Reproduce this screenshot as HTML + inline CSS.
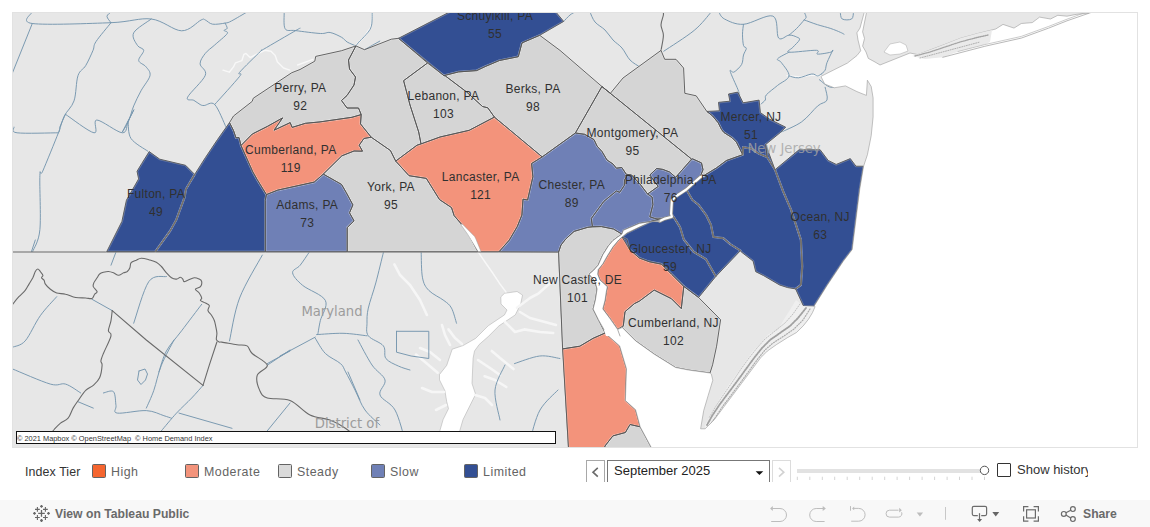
<!DOCTYPE html>
<html><head><meta charset="utf-8"><title>Home Demand Index</title>
<style>
html,body{margin:0;padding:0;background:#fff;}
body{width:1150px;height:527px;overflow:hidden;position:relative;font-family:"Liberation Sans",Arial,sans-serif;}
.abs{position:absolute;}
.leg{position:absolute;top:464.3px;font-size:12.4px;letter-spacing:0.5px;color:#646464;line-height:16px;}
.sw{position:absolute;top:464px;width:12px;height:12px;border:1px solid #636363;border-radius:1.5px;}
.bar{position:absolute;left:0;top:500px;width:1150px;height:27px;background:#f8f8f8;}
</style></head><body>
<svg width="1150" height="527" viewBox="0 0 1150 527" style="position:absolute;left:0;top:0"><defs><clipPath id="mc"><rect x="13" y="13" width="1124" height="434"/></clipPath></defs><g clip-path="url(#mc)"><rect x="13" y="13" width="1124" height="434" fill="#e7e7e7"/><polygon points="500.8,296.9 504.5,293.3 517.1,291.5 522.5,295.1 520.7,304.1 515.3,314.9 499.0,325.8 488.2,336.6 479.2,344.5 474.5,351.0 473.1,358.2 472.0,383.5 475.6,394.3 470.2,405.1 463.0,419.6 459.4,432.0 439.5,432.0 443.1,419.6 448.5,408.7 446.7,401.5 444.9,390.7 439.5,379.9 439.5,374.5 446.7,365.4 452.2,349.2 463.0,345.6 475.6,338.4 488.2,325.8 504.5,314.9 507.0,310.0 501.0,304.0" fill="#ffffff" stroke="#a8a8a8" stroke-width="0.5"/><polygon points="884.0,52.0 890.0,44.0 900.0,42.0 906.0,45.0 908.0,51.0 900.0,54.0 890.0,55.0" fill="#ffffff" stroke="#a8a8a8" stroke-width="0.5"/><polyline points="478.0,251.7 485.0,262.0 492.0,272.0 500.0,284.0 506.0,292.0" fill="none" stroke="#f8f8f8" stroke-width="1.4" stroke-linejoin="round" stroke-linecap="round" /><polyline points="462.0,225.0 470.0,237.0 478.0,251.7" fill="none" stroke="#f8f8f8" stroke-width="1.4" stroke-linejoin="round" stroke-linecap="round" /><polyline points="223.0,70.1 229.3,72.2 233.5,66.9 235.5,62.8 241.8,60.7 243.9,54.4 246.0,53.4 250.1,57.6 258.5,53.4 264.8,50.3 271.0,51.3 275.2,55.5 277.3,61.7 283.5,68.0 289.8,70.1" fill="none" stroke="#f8f8f8" stroke-width="1.4" stroke-linejoin="round" stroke-linecap="round" /><polyline points="297.6,65.0 312.9,59.3" fill="none" stroke="#f8f8f8" stroke-width="1.4" stroke-linejoin="round" stroke-linecap="round" /><polyline points="372.2,12.0 371.0,27.0 364.0,37.0 357.0,44.0" fill="none" stroke="#f8f8f8" stroke-width="1.4" stroke-linejoin="round" stroke-linecap="round" /><polyline points="787.0,75.6 800.0,77.0 812.0,75.0 822.0,76.0" fill="none" stroke="#f8f8f8" stroke-width="1.4" stroke-linejoin="round" stroke-linecap="round" /><polyline points="517.0,307.7 530.0,298.0 538.7,293.3 548.0,285.0 556.8,278.9" fill="none" stroke="#f6f6f6" stroke-width="2.6" stroke-linejoin="round" stroke-linecap="round" /><polyline points="520.0,312.0 530.0,318.0 545.0,322.0 556.0,325.0" fill="none" stroke="#f6f6f6" stroke-width="2.6" stroke-linejoin="round" stroke-linecap="round" /><polyline points="505.0,322.0 515.0,332.0 524.3,329.4 540.0,332.0 553.2,333.0" fill="none" stroke="#f6f6f6" stroke-width="2.6" stroke-linejoin="round" stroke-linecap="round" /><polyline points="484.6,376.3 495.0,380.0 506.3,387.0" fill="none" stroke="#f6f6f6" stroke-width="2.6" stroke-linejoin="round" stroke-linecap="round" /><polyline points="491.8,351.0 500.0,358.0 513.5,369.0" fill="none" stroke="#f6f6f6" stroke-width="2.6" stroke-linejoin="round" stroke-linecap="round" /><polyline points="478.0,360.0 490.0,368.0 500.0,375.0" fill="none" stroke="#f6f6f6" stroke-width="2.6" stroke-linejoin="round" stroke-linecap="round" /><polyline points="475.0,395.0 485.0,398.0 492.0,405.0" fill="none" stroke="#f6f6f6" stroke-width="2.6" stroke-linejoin="round" stroke-linecap="round" /><polyline points="416.0,354.6 425.0,362.0 437.7,372.7" fill="none" stroke="#f6f6f6" stroke-width="2.6" stroke-linejoin="round" stroke-linecap="round" /><polyline points="448.5,329.4 455.0,338.0 462.0,344.0" fill="none" stroke="#f6f6f6" stroke-width="2.6" stroke-linejoin="round" stroke-linecap="round" /><polyline points="426.9,315.0 420.0,300.0 410.0,285.0 400.0,275.0 394.4,264.4" fill="none" stroke="#f6f6f6" stroke-width="2.6" stroke-linejoin="round" stroke-linecap="round" /><polyline points="440.0,360.0 430.0,352.0 420.0,348.0" fill="none" stroke="#f6f6f6" stroke-width="2.6" stroke-linejoin="round" stroke-linecap="round" /><polyline points="444.0,392.0 432.0,392.0 422.0,388.0" fill="none" stroke="#f6f6f6" stroke-width="2.6" stroke-linejoin="round" stroke-linecap="round" /><polyline points="446.0,405.0 436.0,410.0" fill="none" stroke="#f6f6f6" stroke-width="2.6" stroke-linejoin="round" stroke-linecap="round" /><polyline points="450.0,345.0 445.0,335.0 442.0,325.0" fill="none" stroke="#f6f6f6" stroke-width="2.6" stroke-linejoin="round" stroke-linecap="round" /><path d="M32.3,12.0 C32.3,13.9 19.2,21.7 32.3,23.5 C45.4,25.3 91.2,23.4 111.0,22.7 C130.8,21.9 139.5,17.6 151.3,19.0 C163.1,20.4 173.3,30.6 181.6,30.8 C189.9,31.0 197.1,21.8 201.1,20.0 C205.1,18.2 203.4,19.3 205.3,20.0 C207.2,20.7 209.3,23.7 212.6,24.2 C215.9,24.7 222.0,23.6 225.1,23.1 C228.2,22.6 227.8,22.9 231.4,21.0 C235.1,19.1 244.4,13.5 247.0,12.0" fill="none" stroke="#7596ae" stroke-width="0.95" stroke-linejoin="round" stroke-linecap="round" /><polyline points="32.3,23.5 12.0,74.0" fill="none" stroke="#7596ae" stroke-width="0.95" stroke-linejoin="round" stroke-linecap="round" /><path d="M111.0,22.7 C110.3,21.6 107.0,18.2 107.0,16.4 C107.0,14.6 110.3,12.7 111.0,12.0" fill="none" stroke="#7596ae" stroke-width="0.95" stroke-linejoin="round" stroke-linecap="round" /><path d="M111.0,22.7 C108.5,25.9 99.0,37.0 96.0,41.6 C93.0,46.2 94.7,46.4 93.0,50.4 C91.3,54.4 88.2,61.4 85.7,65.6 C83.2,69.8 80.0,69.7 78.0,75.6 C76.0,81.5 76.3,94.2 74.0,100.9 C71.7,107.6 66.8,110.8 64.3,116.0 C61.8,121.2 59.9,129.3 59.0,132.0" fill="none" stroke="#7596ae" stroke-width="0.95" stroke-linejoin="round" stroke-linecap="round" /><path d="M151.3,19.0 C148.4,21.3 136.0,28.4 133.7,32.8 C131.4,37.2 135.7,42.5 137.4,45.4 C139.1,48.3 143.5,47.9 143.7,50.4 C143.9,52.9 138.3,57.8 138.7,60.5 C139.1,63.2 144.1,64.3 146.0,66.8 C147.9,69.3 150.8,71.6 150.0,75.6 C149.2,79.6 143.7,85.8 141.0,90.8 C138.3,95.8 135.8,100.9 133.7,105.9 C131.6,110.9 130.5,116.7 128.6,121.0 C126.7,125.3 121.4,133.8 122.3,132.0 C123.2,130.2 131.9,113.7 133.8,110.0" fill="none" stroke="#7596ae" stroke-width="0.95" stroke-linejoin="round" stroke-linecap="round" /><path d="M225.1,23.1 C225.4,24.0 227.4,27.1 227.2,28.3 C227.0,29.5 224.1,29.5 224.1,30.4 C224.1,31.3 228.8,31.2 227.2,33.6 C225.6,36.0 218.3,41.7 214.7,45.0 C211.0,48.3 207.7,50.3 205.3,53.4 C202.9,56.5 200.1,60.1 200.1,63.8 C200.1,67.5 207.4,69.7 205.3,75.3 C203.2,80.9 189.5,93.0 187.6,97.2 C185.7,101.4 191.7,99.1 193.8,100.3 C195.9,101.5 198.4,103.6 200.1,104.5 C201.8,105.4 201.8,105.5 204.2,105.5 C206.6,105.5 211.1,100.9 214.7,104.5 C218.3,108.1 224.1,123.2 226.0,127.0" fill="none" stroke="#7596ae" stroke-width="0.95" stroke-linejoin="round" stroke-linecap="round" /><path d="M214.7,104.5 C218.9,99.8 235.5,81.7 239.7,76.3 C243.9,70.9 236.2,76.4 239.7,72.2 C243.2,68.0 256.6,55.1 260.6,51.3 C264.6,47.5 257.8,52.7 263.7,49.2 C269.6,45.7 289.9,33.9 296.0,30.4 C302.1,26.9 299.3,28.6 300.0,28.3" fill="none" stroke="#7596ae" stroke-width="0.95" stroke-linejoin="round" stroke-linecap="round" /><path d="M284.2,12.0 C284.4,14.8 283.2,25.6 285.1,28.7 C287.0,31.8 289.8,29.8 295.7,30.6 C301.6,31.4 314.8,33.2 320.5,33.5 C326.2,33.8 326.6,31.9 330.1,32.5 C333.6,33.1 338.7,35.7 341.6,37.3 C344.5,38.9 344.9,40.7 347.3,42.1 C349.7,43.5 354.5,45.3 355.9,45.9" fill="none" stroke="#7596ae" stroke-width="0.95" stroke-linejoin="round" stroke-linecap="round" /><path d="M65.5,114.3 C64.5,116.4 61.0,124.0 59.8,127.1 C58.6,130.2 61.2,125.5 58.4,132.8 C55.5,140.2 45.8,164.1 42.7,171.2 C39.6,178.3 40.4,165.8 39.9,175.5 C39.4,185.2 41.1,216.9 39.9,229.6 C38.7,242.3 33.9,247.8 32.7,251.5" fill="none" stroke="#7596ae" stroke-width="0.95" stroke-linejoin="round" stroke-linecap="round" /><path d="M14.2,127.1 C14.7,128.1 9.7,131.9 17.1,132.8 C24.5,133.8 51.5,132.8 58.4,132.8" fill="none" stroke="#7596ae" stroke-width="0.95" stroke-linejoin="round" stroke-linecap="round" /><path d="M65.5,114.3 C70.2,117.4 88.8,131.9 94.0,132.8 C99.2,133.8 92.1,120.0 96.8,120.0 C101.5,120.0 117.2,132.6 122.4,132.8 C127.6,133.0 126.2,125.2 128.1,121.4 C130.0,117.6 132.9,111.9 133.8,110.0" fill="none" stroke="#7596ae" stroke-width="0.95" stroke-linejoin="round" stroke-linecap="round" /><path d="M128.1,121.4 C128.6,124.2 127.7,133.5 131.0,138.5 C134.3,143.5 145.2,149.2 148.0,151.3" fill="none" stroke="#7596ae" stroke-width="0.95" stroke-linejoin="round" stroke-linecap="round" /><path d="M372.2,12.0 C372.0,14.5 372.5,22.8 371.2,26.8 C369.9,30.9 366.6,33.8 364.5,36.3 C362.4,38.8 360.2,40.5 358.8,42.1 C357.4,43.7 356.4,45.3 355.9,45.9" fill="none" stroke="#7596ae" stroke-width="0.95" stroke-linejoin="round" stroke-linecap="round" /><polyline points="364.5,49.7 379.8,41.1" fill="none" stroke="#7596ae" stroke-width="0.95" stroke-linejoin="round" stroke-linecap="round" /><path d="M563.7,21.4 C564.8,20.3 568.1,16.6 570.0,15.0 C571.9,13.4 574.2,12.5 575.0,12.0" fill="none" stroke="#7596ae" stroke-width="0.95" stroke-linejoin="round" stroke-linecap="round" /><path d="M590.0,12.0 C590.8,13.7 592.5,19.0 595.0,22.0 C597.5,25.0 602.0,27.0 605.0,30.0 C608.0,33.0 610.2,37.0 613.0,40.0 C615.8,43.0 619.2,44.7 622.0,48.0 C624.8,51.3 627.0,56.8 630.0,60.0 C633.0,63.2 638.3,65.8 640.0,67.0" fill="none" stroke="#7596ae" stroke-width="0.95" stroke-linejoin="round" stroke-linecap="round" /><path d="M663.8,51.2 C668.9,47.7 686.3,36.9 694.2,30.4 C702.1,23.9 708.4,15.1 711.2,12.0" fill="none" stroke="#7596ae" stroke-width="0.95" stroke-linejoin="round" stroke-linecap="round" /><path d="M718.8,12.0 C719.8,13.2 720.4,16.9 724.5,19.0 C728.6,21.1 735.4,24.8 743.5,24.3 C751.6,23.8 767.0,13.8 772.9,16.1 C778.8,18.4 775.9,34.8 778.6,38.0 C781.3,41.2 786.0,35.3 789.0,35.1 C792.0,34.9 794.9,36.2 796.6,37.0 C798.4,37.8 800.1,38.1 799.5,39.8 C798.9,41.5 794.5,45.3 792.8,47.4 C791.0,49.5 785.0,51.7 789.0,52.2 C793.0,52.7 811.8,50.0 816.5,50.3 C821.2,50.6 815.1,53.8 817.5,54.1 C819.9,54.4 828.3,52.8 830.8,52.2 C833.3,51.6 832.4,50.6 832.7,50.3" fill="none" stroke="#7596ae" stroke-width="0.95" stroke-linejoin="round" stroke-linecap="round" /><path d="M743.5,24.3 C743.3,26.0 742.5,30.7 742.5,34.2 C742.5,37.7 742.9,43.1 743.5,45.5 C744.1,47.9 746.3,46.8 746.3,48.4 C746.3,50.0 744.3,52.3 743.5,55.0 C742.7,57.7 743.2,61.6 741.6,64.5 C740.0,67.3 735.9,71.0 734.0,72.1 C732.1,73.2 729.6,68.3 730.2,71.2 C730.8,74.1 736.2,85.2 737.8,89.2 C739.4,93.2 739.4,94.0 739.7,94.9" fill="none" stroke="#7596ae" stroke-width="0.95" stroke-linejoin="round" stroke-linecap="round" /><path d="M804.2,12.0 C804.5,12.8 806.1,15.8 806.1,17.1 C806.1,18.4 805.8,18.0 804.2,19.9 C802.6,21.8 799.1,26.0 796.6,28.5 C794.1,31.0 790.3,34.0 789.0,35.1" fill="none" stroke="#7596ae" stroke-width="0.95" stroke-linejoin="round" stroke-linecap="round" /><path d="M804.2,19.9 C806.4,20.7 813.1,23.3 817.5,24.7 C821.9,26.1 827.0,27.2 830.8,28.5 C834.6,29.8 838.1,31.3 840.3,32.3 C842.5,33.2 843.4,33.9 844.0,34.2" fill="none" stroke="#7596ae" stroke-width="0.95" stroke-linejoin="round" stroke-linecap="round" /><path d="M789.0,52.2 C787.1,53.3 778.9,57.1 777.6,58.8 C776.3,60.5 779.5,59.8 781.4,62.6 C783.3,65.5 789.6,72.1 789.0,75.9 C788.4,79.7 781.4,82.2 777.6,85.4 C773.8,88.6 768.3,92.5 766.3,94.9 C764.2,97.3 766.2,98.5 765.3,100.0 C764.4,101.5 761.7,103.3 761.0,104.0" fill="none" stroke="#7596ae" stroke-width="0.95" stroke-linejoin="round" stroke-linecap="round" /><path d="M789.0,75.9 C790.6,76.2 794.7,78.1 798.5,77.8 C802.3,77.5 808.6,74.3 811.8,74.0 C815.0,73.7 815.9,75.9 817.5,75.9 C819.1,75.9 820.7,74.3 821.3,74.0" fill="none" stroke="#7596ae" stroke-width="0.95" stroke-linejoin="round" stroke-linecap="round" /><path d="M819.4,79.7 C821.3,81.0 827.0,86.7 830.8,87.3 C834.6,87.9 840.3,84.1 842.2,83.5" fill="none" stroke="#7596ae" stroke-width="0.95" stroke-linejoin="round" stroke-linecap="round" /><path d="M825.1,87.3 C825.4,89.4 828.2,96.9 827.0,100.0 C825.8,103.1 821.8,102.3 817.6,106.0 C813.4,109.7 807.8,117.5 801.6,121.9 C795.4,126.3 783.9,130.7 780.4,132.5" fill="none" stroke="#7596ae" stroke-width="0.95" stroke-linejoin="round" stroke-linecap="round" /><path d="M832.7,50.3 C831.8,52.3 828.3,59.3 827.0,62.6 C825.7,65.9 826.1,68.3 825.1,70.2 C824.1,72.1 821.9,73.4 821.3,74.0" fill="none" stroke="#7596ae" stroke-width="0.95" stroke-linejoin="round" stroke-linecap="round" /><path d="M840.3,12.0 C840.6,13.2 840.3,17.8 842.2,19.0 C844.1,20.2 849.7,20.2 851.6,19.0 C853.5,17.8 853.2,13.2 853.5,12.0" fill="none" stroke="#7596ae" stroke-width="0.95" stroke-linejoin="round" stroke-linecap="round" /><polyline points="640.0,67.0 675.0,72.0" fill="none" stroke="#7596ae" stroke-width="0.95" stroke-linejoin="round" stroke-linecap="round" /><polyline points="35.3,240.0 31.5,251.5" fill="none" stroke="#7596ae" stroke-width="0.95" stroke-linejoin="round" stroke-linecap="round" /><polyline points="116.0,252.0 111.0,265.2" fill="none" stroke="#7596ae" stroke-width="0.95" stroke-linejoin="round" stroke-linecap="round" /><polyline points="92.0,299.3 112.2,310.6" fill="none" stroke="#7596ae" stroke-width="0.95" stroke-linejoin="round" stroke-linecap="round" /><path d="M56.7,296.7 C54.0,299.9 45.5,308.3 40.3,315.7 C35.0,323.1 29.8,335.6 25.2,340.9 C20.6,346.1 14.7,346.1 12.6,347.2" fill="none" stroke="#7596ae" stroke-width="0.95" stroke-linejoin="round" stroke-linecap="round" /><path d="M166.4,276.6 C163.5,277.4 154.2,273.8 148.8,281.6 C143.4,289.4 136.2,316.3 133.7,323.2" fill="none" stroke="#7596ae" stroke-width="0.95" stroke-linejoin="round" stroke-linecap="round" /><path d="M201.7,304.3 C198.3,308.7 187.5,323.0 181.6,330.8 C175.7,338.6 170.2,344.1 166.4,351.0 C162.6,357.9 160.2,368.4 158.9,371.9" fill="none" stroke="#7596ae" stroke-width="0.95" stroke-linejoin="round" stroke-linecap="round" /><path d="M262.3,255.1 C258.5,262.2 245.1,283.7 239.6,298.0 C234.1,312.3 231.2,333.8 229.5,340.9" fill="none" stroke="#7596ae" stroke-width="0.95" stroke-linejoin="round" stroke-linecap="round" /><polyline points="267.3,363.6 290.0,351.0" fill="none" stroke="#7596ae" stroke-width="0.95" stroke-linejoin="round" stroke-linecap="round" /><path d="M12.6,369.0 C18.9,371.5 41.6,381.6 50.4,384.1 C59.2,386.6 60.5,382.6 65.6,384.1 C70.6,385.6 78.2,391.5 80.7,393.0" fill="none" stroke="#7596ae" stroke-width="0.95" stroke-linejoin="round" stroke-linecap="round" /><polyline points="78.2,401.8 93.3,408.1" fill="none" stroke="#7596ae" stroke-width="0.95" stroke-linejoin="round" stroke-linecap="round" /><path d="M103.4,393.0 C105.1,392.8 111.4,389.6 113.5,391.7 C115.6,393.8 115.4,402.0 116.0,405.6 C116.6,409.2 112.2,412.3 117.3,413.1 C122.3,413.9 138.5,410.2 146.3,410.6 C154.1,411.0 159.7,414.4 163.9,415.7 C168.1,417.0 170.2,417.8 171.5,418.2" fill="none" stroke="#7596ae" stroke-width="0.95" stroke-linejoin="round" stroke-linecap="round" /><path d="M174.0,340.0 C171.9,344.2 164.8,356.8 161.4,365.2 C158.0,373.6 156.3,383.2 153.8,390.4 C151.3,397.5 147.6,405.2 146.3,408.1" fill="none" stroke="#7596ae" stroke-width="0.95" stroke-linejoin="round" stroke-linecap="round" /><path d="M203.0,385.4 C201.1,387.5 196.1,393.4 191.7,398.0 C187.3,402.6 181.6,407.6 176.5,413.1 C171.4,418.6 163.9,427.9 161.4,430.8" fill="none" stroke="#7596ae" stroke-width="0.95" stroke-linejoin="round" stroke-linecap="round" /><polyline points="179.0,413.1 232.0,428.3" fill="none" stroke="#7596ae" stroke-width="0.95" stroke-linejoin="round" stroke-linecap="round" /><polyline points="267.3,365.2 290.0,350.0" fill="none" stroke="#7596ae" stroke-width="0.95" stroke-linejoin="round" stroke-linecap="round" /><polyline points="290.0,403.0 267.3,430.8" fill="none" stroke="#7596ae" stroke-width="0.95" stroke-linejoin="round" stroke-linecap="round" /><path d="M309.0,252.5 C307.5,254.6 302.9,261.8 300.2,265.2 C297.5,268.6 292.2,269.4 292.6,272.8 C293.0,276.2 297.2,280.8 302.7,285.4 C308.2,290.0 322.5,294.6 325.4,300.5 C328.3,306.4 321.6,315.0 320.3,320.7 C319.0,326.4 318.2,332.3 317.8,334.6" fill="none" stroke="#7596ae" stroke-width="0.95" stroke-linejoin="round" stroke-linecap="round" /><path d="M316.6,334.6 C321.0,334.4 334.6,333.1 343.0,333.3 C351.4,333.5 363.0,335.4 367.0,335.8" fill="none" stroke="#7596ae" stroke-width="0.95" stroke-linejoin="round" stroke-linecap="round" /><polyline points="280.0,356.0 315.3,337.1" fill="none" stroke="#7596ae" stroke-width="0.95" stroke-linejoin="round" stroke-linecap="round" /><path d="M315.3,338.3 C317.0,340.8 321.2,349.3 325.4,353.5 C329.6,357.7 337.1,360.5 340.5,363.6 C343.9,366.7 343.2,367.5 345.6,371.9 C348.0,376.3 351.8,383.6 355.0,390.0 C358.2,396.4 360.8,404.2 365.0,410.0 C369.2,415.8 377.5,422.5 380.0,425.0" fill="none" stroke="#7596ae" stroke-width="0.95" stroke-linejoin="round" stroke-linecap="round" /><path d="M383.4,252.5 C382.1,257.6 378.3,273.6 375.8,282.9 C373.3,292.2 369.8,301.4 368.3,308.1 C366.8,314.8 367.0,318.6 367.0,323.2 C367.0,327.8 365.6,332.0 368.3,335.8 C371.0,339.6 380.5,342.1 383.4,345.9 C386.3,349.7 383.4,355.1 385.9,358.5 C388.4,361.9 394.5,364.2 398.5,366.1 C402.5,368.0 408.1,369.4 410.0,370.0" fill="none" stroke="#7596ae" stroke-width="0.95" stroke-linejoin="round" stroke-linecap="round" /><path d="M421.2,252.5 C421.4,256.7 421.2,271.5 422.5,277.8 C423.8,284.1 425.2,286.6 428.8,290.4 C432.4,294.2 440.1,297.6 443.9,300.5 C447.7,303.4 449.4,304.3 451.5,308.1 C453.6,311.9 455.7,320.7 456.5,323.2" fill="none" stroke="#7596ae" stroke-width="0.95" stroke-linejoin="round" stroke-linecap="round" /><polyline points="396.5,331.3 428.8,331.3 428.8,358.5 411.1,356.0 396.5,352.2 396.5,331.3" fill="none" stroke="#7596ae" stroke-width="0.95" stroke-linejoin="round" stroke-linecap="round" /><path d="M514.5,363.6 C518.7,362.3 532.1,356.9 539.7,356.0 C547.3,355.1 556.5,358.1 559.9,358.5" fill="none" stroke="#7596ae" stroke-width="0.95" stroke-linejoin="round" stroke-linecap="round" /><polyline points="139.0,371.0 145.0,369.0 147.5,374.0 145.5,380.0 141.0,384.5 137.5,380.0 139.0,371.0" fill="none" stroke="#7596ae" stroke-width="0.95" stroke-linejoin="round" stroke-linecap="round" /><path d="M530.0,440.0 C531.7,435.0 535.3,418.3 540.0,410.0 C544.7,401.7 555.0,393.3 558.0,390.0" fill="none" stroke="#7596ae" stroke-width="0.95" stroke-linejoin="round" stroke-linecap="round" /><path d="M358.0,340.0 C360.3,344.2 367.5,358.3 372.0,365.0 C376.5,371.7 383.7,375.0 385.0,380.0 C386.3,385.0 378.3,390.0 380.0,395.0 C381.7,400.0 390.8,402.5 395.0,410.0 C399.2,417.5 403.3,435.0 405.0,440.0" fill="none" stroke="#7596ae" stroke-width="0.95" stroke-linejoin="round" stroke-linecap="round" /><polyline points="348.0,372.0 360.0,400.0" fill="none" stroke="#7596ae" stroke-width="0.95" stroke-linejoin="round" stroke-linecap="round" /><path d="M505.0,365.0 C503.3,369.2 495.8,380.8 495.0,390.0 C494.2,399.2 499.2,415.0 500.0,420.0" fill="none" stroke="#7596ae" stroke-width="0.95" stroke-linejoin="round" stroke-linecap="round" /><polyline points="12.0,252.0 558.6,252.0" fill="none" stroke="#6a6a6a" stroke-width="1.1" stroke-linejoin="round" stroke-linecap="round" /><polyline points="558.6,252.0 562.8,348.2 568.5,448.0" fill="none" stroke="#6a6a6a" stroke-width="1.1" stroke-linejoin="round" stroke-linecap="round" /><path d="M12.6,304.3 C13.6,303.0 16.8,299.0 18.9,296.7 C21.0,294.4 23.5,292.5 25.2,290.4 C26.9,288.3 27.7,286.2 29.0,284.1 C30.3,282.0 31.7,279.9 32.8,277.8 C33.8,275.7 34.5,273.0 35.3,271.5 C36.1,270.0 37.0,269.0 37.8,269.0 C38.6,269.0 39.4,270.4 40.3,271.5 C41.1,272.6 42.7,274.2 42.9,275.3 C43.1,276.4 41.4,277.0 41.6,277.8 C41.8,278.6 43.5,279.2 44.1,280.3 C44.7,281.4 44.4,282.6 45.4,284.1 C46.4,285.6 48.5,287.7 50.4,289.2 C52.3,290.7 54.2,292.2 56.7,293.0 C59.2,293.8 62.4,293.4 65.6,294.2 C68.8,294.9 72.3,296.9 75.7,297.5 C79.1,298.1 83.0,297.8 85.7,298.0 C88.4,298.2 90.5,299.1 92.0,298.5 C93.5,297.9 93.8,295.3 94.6,294.2 C95.4,293.1 97.3,292.9 97.1,291.7 C96.9,290.4 93.8,288.2 93.3,286.7 C92.8,285.2 93.2,284.4 93.8,282.9 C94.4,281.4 96.1,279.3 97.1,277.8 C98.1,276.3 98.5,274.9 99.6,274.0 C100.6,273.1 101.9,272.7 103.4,272.3 C104.9,271.9 106.7,271.4 108.4,271.5 C110.1,271.6 111.8,272.2 113.5,272.8 C115.2,273.4 116.8,275.3 118.5,275.3 C120.2,275.3 122.1,273.4 123.6,272.8 C125.1,272.2 126.2,272.4 127.3,271.5 C128.3,270.6 129.3,269.2 129.9,267.7 C130.5,266.2 130.1,263.9 131.1,262.7 C132.1,261.4 134.5,260.9 136.2,260.2 C137.9,259.4 139.1,258.3 141.2,258.2 C143.3,258.1 146.3,259.0 148.8,259.7 C151.3,260.4 154.2,261.1 156.3,262.2 C158.4,263.3 159.7,264.7 161.4,266.5 C163.1,268.3 164.7,270.9 166.4,272.8 C168.1,274.7 169.8,276.8 171.5,277.8 C173.2,278.9 175.0,279.2 176.5,279.1 C178.0,279.0 179.2,277.3 180.3,277.3 C181.4,277.3 182.2,278.4 182.8,279.1 C183.4,279.8 183.2,281.4 184.1,281.6 C184.9,281.8 186.2,280.9 187.9,280.3 C189.6,279.7 192.3,278.0 194.2,277.8 C196.1,277.6 197.9,278.5 199.2,279.1 C200.4,279.7 201.5,280.3 201.7,281.6 C201.9,282.9 201.6,285.4 200.5,286.7 C199.4,288.0 195.6,288.1 195.4,289.2 C195.2,290.2 198.1,291.5 199.2,293.0 C200.2,294.5 201.5,296.8 201.7,298.0 C201.9,299.2 199.9,299.7 200.5,300.5 C201.1,301.3 204.0,302.1 205.5,303.0 C207.0,303.9 208.9,304.3 209.3,305.6 C209.7,306.9 207.6,308.9 208.0,310.6 C208.4,312.3 210.7,314.0 211.8,315.7 C212.9,317.4 213.8,319.0 214.4,320.7 C215.0,322.4 215.2,323.6 215.6,325.7 C216.0,327.8 216.8,331.0 216.9,333.3 C217.0,335.6 216.0,338.1 216.4,339.6 C216.8,341.1 218.5,341.7 219.4,342.1 C220.3,342.5 219.0,341.7 221.9,342.1 C224.8,342.5 232.8,344.1 237.0,344.7 C241.2,345.3 244.6,344.4 247.1,345.9 C249.6,347.4 248.8,350.3 252.2,353.5 C255.6,356.7 266.5,361.6 267.3,365.2 C268.1,368.8 258.5,371.1 257.2,375.3 C255.9,379.5 258.0,386.6 259.7,390.4 C261.4,394.2 262.2,396.3 267.3,398.0 C272.4,399.7 282.9,397.7 290.0,400.5 C297.1,403.3 303.3,411.8 310.0,415.0 C316.7,418.2 324.2,417.8 330.0,420.0 C335.8,422.2 340.0,424.7 345.0,428.0 C350.0,431.3 357.5,438.0 360.0,440.0" fill="none" stroke="#6a6a6a" stroke-width="1.1" stroke-linejoin="round" stroke-linecap="round" /><polyline points="216.9,342.0 209.3,365.2 203.0,385.4" fill="none" stroke="#6a6a6a" stroke-width="1.1" stroke-linejoin="round" stroke-linecap="round" /><path d="M112.2,310.6 C112.0,312.3 111.6,317.3 111.0,320.7 C110.4,324.1 108.4,328.3 108.4,330.8 C108.4,333.3 111.8,332.0 111.0,335.8 C110.2,339.6 105.1,349.3 103.4,353.5 C101.7,357.7 101.1,359.1 100.9,361.0 C100.7,362.9 102.3,362.4 102.1,365.2 C101.9,368.0 101.1,374.4 99.6,377.8 C98.1,381.2 95.6,383.3 93.3,385.4 C91.0,387.5 88.2,387.9 85.7,390.4 C83.2,392.9 80.3,397.6 78.2,400.5 C76.1,403.4 74.8,405.2 73.1,408.1 C71.4,411.1 70.2,415.7 68.1,418.2 C66.0,420.7 62.8,421.3 60.5,423.2 C58.2,425.1 56.8,426.7 54.2,429.5 C51.6,432.3 46.5,438.2 45.0,440.0" fill="none" stroke="#6a6a6a" stroke-width="1.1" stroke-linejoin="round" stroke-linecap="round" /><polyline points="112.2,310.6 146.3,340.0 203.0,385.4" fill="none" stroke="#6a6a6a" stroke-width="1.1" stroke-linejoin="round" stroke-linecap="round" /><path d="M663.0,11.0 C663.1,11.7 663.7,12.7 663.4,15.0 C663.1,17.3 661.0,21.6 661.0,25.0 C661.0,28.4 663.4,31.1 663.4,35.3 C663.4,39.5 661.4,47.9 661.0,50.4" fill="none" stroke="#6a6a6a" stroke-width="1.1" stroke-linejoin="round" stroke-linecap="round" /><polygon points="149.2,151.6 159.8,159.2 185.6,165.3 194.7,174.4 186.0,189.0 184.5,197.5 176.2,220.0 170.4,230.5 155.3,251.7 106.7,251.7 121.9,221.4 126.4,200.2 138.6,178.9 137.0,171.3 141.6,163.7" fill="#334f93"/><polygon points="194.7,174.4 205.3,157.7 217.5,139.5 229.5,122.6 233.5,130.5 236.0,137.8 239.0,137.5 241.0,145.5 252.8,171.9 257.3,179.8 266.4,194.6 265.3,200.3 265.3,251.7 155.3,251.7 170.4,230.5 176.2,220.0 184.5,197.5 186.0,189.0" fill="#334f93"/><polygon points="229.5,122.6 233.5,116.0 252.2,101.4 253.3,98.2 275.5,83.5 291.8,72.7 300.0,69.5 314.8,61.2 315.7,56.4 341.6,50.7 355.9,45.9 348.5,60.0 349.5,69.0 355.5,77.0 354.0,85.0 347.0,95.5 341.5,100.5 347.0,108.0 358.5,108.0 361.2,114.6 351.9,117.3 320.0,121.9 305.4,123.3 292.1,127.4 290.2,122.6 274.1,130.2 282.6,117.9 267.4,126.4 252.3,134.0 241.0,145.5 239.0,137.5 236.0,137.8 233.5,130.5" fill="#d5d5d5"/><polygon points="241.0,145.5 252.3,134.0 267.4,126.4 282.6,117.9 274.1,130.2 290.2,122.6 292.1,127.4 305.4,123.3 320.0,121.9 351.9,117.3 361.2,114.6 360.5,123.9 371.2,137.2 363.9,138.5 359.2,145.2 362.5,151.2 354.0,151.0 341.9,155.8 323.3,174.1 314.2,182.1 277.8,190.1 266.4,194.6 257.3,179.8 252.8,171.9" fill="#f3937b"/><polygon points="265.3,200.3 266.4,194.6 277.8,190.1 314.2,182.1 323.3,174.1 341.5,184.4 346.1,192.3 352.9,204.9 349.5,212.8 354.0,220.8 347.2,227.6 347.2,251.7 265.3,251.7" fill="#6f80b6"/><polygon points="323.3,174.1 341.9,155.8 354.0,151.0 362.5,151.2 359.2,145.2 363.9,138.5 371.2,137.2 390.4,150.5 395.7,161.1 409.0,175.7 426.3,178.4 439.5,199.6 451.5,207.6 454.1,215.6 462.1,224.9 467.4,231.5 478.0,251.7 347.2,251.7 347.2,227.6 354.0,220.8 349.5,212.8 352.9,204.9 346.1,192.3 341.5,184.4" fill="#d5d5d5"/><polygon points="355.9,45.9 364.5,49.7 391.3,39.2 398.5,38.3 427.5,63.0 403.6,80.7 410.0,105.0 418.7,132.0 421.0,143.9 417.0,145.2 395.7,161.1 390.4,150.5 371.2,137.2 360.5,123.9 361.2,114.6 358.5,108.0 347.0,108.0 341.5,100.5 347.0,95.5 354.0,85.0 355.5,77.0 349.5,69.0 348.5,60.0" fill="#d5d5d5"/><polygon points="403.6,80.7 427.5,63.0 443.9,75.6 445.3,75.9 466.5,91.9 482.5,106.5 487.8,107.8 494.4,117.1 469.2,130.3 440.0,137.0 421.0,143.9 418.7,132.0 410.0,105.0" fill="#d5d5d5"/><polygon points="398.5,38.3 451.5,11.0 555.0,11.0 563.7,21.4 539.7,35.3 522.0,42.9 518.3,56.7 499.4,60.5 485.1,66.6 476.7,70.6 458.6,71.9 443.9,75.6" fill="#334f93"/><polygon points="494.4,117.1 487.8,107.8 482.5,106.5 466.5,91.9 445.3,75.9 443.9,75.6 458.6,71.9 476.7,70.6 485.1,66.6 499.4,60.5 518.3,56.7 522.0,42.9 539.7,35.3 560.0,50.4 601.9,86.5 575.4,133.0 542.2,156.9" fill="#d5d5d5"/><polygon points="395.7,161.1 417.0,145.2 421.0,143.9 440.0,137.0 469.2,130.3 494.4,117.1 542.2,156.9 531.6,163.5 532.9,176.8 527.6,200.0 523.0,199.2 521.9,215.1 517.3,226.5 509.3,240.1 499.1,251.7 478.0,251.7 467.4,231.5 462.1,224.9 454.1,215.6 451.5,207.6 439.5,199.6 426.3,178.4 409.0,175.7" fill="#f3937b"/><polygon points="542.2,156.9 575.4,133.0 584.7,134.3 594.0,139.6 597.0,146.0 602.0,151.5 607.0,160.0 613.0,164.0 616.4,168.2 621.8,167.5 626.3,174.3 628.0,174.5 624.5,180.0 624.3,185.5 619.7,192.3 616.4,191.0 603.8,201.4 591.3,218.5 592.4,226.5 587.8,227.3 574.1,231.4 565.6,239.2 561.0,245.0 558.6,252.0 499.1,251.7 509.3,240.1 517.3,226.5 521.9,215.1 523.0,199.2 527.6,200.0 532.9,176.8 531.6,163.5" fill="#6f80b6"/><polygon points="601.9,86.5 691.5,159.0 686.3,165.2 675.7,177.3 669.6,172.0 662.8,169.4 656.7,168.5 649.8,175.0 658.2,186.4 647.6,194.0 640.7,184.9 631.6,175.0 628.0,174.5 626.3,174.3 621.8,167.5 616.4,168.2 613.0,164.0 607.0,160.0 602.0,151.5 597.0,146.0 594.0,139.6 584.7,134.3 575.4,133.0" fill="#d5d5d5"/><polygon points="601.9,86.5 610.4,93.3 623.0,78.0 661.0,50.4 664.7,59.3 676.0,59.3 683.6,68.0 684.8,93.3 696.2,95.8 706.8,111.4 712.5,115.9 718.2,122.8 721.6,129.6 723.9,132.5 731.9,137.6 736.4,142.1 739.9,149.0 742.7,154.7 726.4,160.5 716.3,168.0 703.7,175.7 700.0,177.3 703.0,169.7 701.5,162.9 692.4,158.8 691.5,159.0" fill="#d5d5d5"/><polygon points="692.4,158.8 701.5,162.9 703.0,169.7 700.0,177.3 693.9,182.6 686.3,189.5 677.2,195.5 671.9,200.1 671.1,213.8 671.9,216.8 665.0,218.3 654.4,218.3 649.8,216.8 652.9,204.7 652.1,197.0 647.6,194.0 658.2,186.4 649.8,175.0 656.7,168.5 662.8,169.4 669.6,172.0 675.7,177.3 686.3,165.2" fill="#6f80b6"/><polygon points="628.0,174.5 631.6,175.0 640.7,184.9 647.6,194.0 652.1,197.0 652.9,204.7 649.8,216.8 654.4,218.3 659.8,220.0 639.3,223.4 623.3,230.3 621.9,234.1 613.4,229.0 601.4,226.6 592.4,226.5 591.3,218.5 603.8,201.4 616.4,191.0 619.7,192.3 624.3,185.5 624.5,180.0" fill="#6f80b6"/><polygon points="558.6,252.0 561.0,245.0 565.6,239.2 574.1,231.4 587.8,227.3 601.4,226.6 613.4,229.0 621.9,234.1 617.0,237.5 613.0,240.5 608.5,245.7 602.8,254.8 598.2,265.1 593.7,270.2 589.1,274.2 594.8,281.0 597.1,289.0 595.4,300.0 593.1,309.1 598.4,319.7 605.1,333.0 593.1,338.3 579.8,346.2 562.6,348.9 558.6,252.0" fill="#d5d5d5"/><polygon points="562.6,348.9 579.8,346.2 593.1,338.3 605.1,333.0 619.7,345.9 626.5,368.7 625.4,400.6 635.6,409.7 640.2,426.8 630.0,424.5 625.4,432.5 612.9,435.9 604.9,446.1 604.9,448.0 568.5,448.0" fill="#f3937b"/><polygon points="604.9,446.1 612.9,435.9 625.4,432.5 630.0,424.5 640.2,426.8 651.6,448.0 604.9,448.0" fill="#d5d5d5"/><polygon points="622.1,237.0 618.7,240.0 613.0,246.8 607.3,255.9 602.8,263.9 598.2,269.6 597.7,274.2 599.9,279.9 607.3,286.7 606.2,292.4 605.1,300.0 602.8,308.9 609.6,318.0 617.6,329.4 623.3,325.8 625.0,311.7 634.3,303.7 639.3,301.2 654.2,290.1 671.4,298.7 681.3,308.6 683.8,286.4 671.4,274.0 661.6,264.2 649.2,261.7 639.3,258.0 629.5,249.3 627.0,239.5" fill="#f3937b"/><polygon points="622.1,237.0 627.0,233.0 639.3,227.1 651.7,221.0 671.4,216.0 673.9,217.3 680.0,227.1 683.8,239.5 693.6,251.8 706.0,259.2 715.8,276.5 698.6,297.5 683.8,286.4 671.4,274.0 661.6,264.2 649.2,261.7 639.3,258.0 629.5,249.3" fill="#334f93"/><polygon points="673.9,217.3 671.1,213.8 671.9,200.1 677.2,195.5 686.3,189.5 692.4,200.0 698.6,204.9 706.0,214.8 710.9,224.7 713.4,237.0 723.2,238.2 730.6,244.4 740.5,250.6 715.8,276.5 706.0,259.2 693.6,251.8 683.8,239.5 680.0,227.1" fill="#334f93"/><polygon points="686.3,189.5 693.9,182.6 700.0,177.3 703.7,175.7 716.3,168.0 726.4,160.5 742.7,154.7 743.1,147.1 751.1,148.5 759.1,153.8 767.1,157.0 775.0,169.7 783.0,191.0 791.0,209.6 800.9,239.8 802.2,266.4 800.9,285.0 795.6,288.9 787.6,287.6 779.6,285.0 763.7,275.7 755.7,271.7 753.1,261.1 741.1,251.8 740.5,250.6 730.6,244.4 723.2,238.2 713.4,237.0 710.9,224.7 706.0,214.8 698.6,204.9 692.4,200.0" fill="#334f93"/><polygon points="706.8,111.4 719.4,110.8 718.5,102.3 729.9,101.2 728.5,94.0 737.8,92.1 743.1,102.8 759.1,100.1 760.4,112.6 769.7,119.2 785.7,127.2 780.4,132.5 765.7,144.5 767.1,157.0 759.1,153.8 751.1,148.5 743.1,147.1 742.7,154.7 739.9,149.0 736.4,142.1 731.9,137.6 723.9,132.5 721.6,129.6 718.2,122.8 712.5,115.9" fill="#334f93"/><polygon points="767.1,157.0 765.7,144.5 775.0,169.7" fill="#334f93"/><polygon points="775.0,169.7 799.0,149.8 820.2,149.8 828.2,160.4 836.2,164.4 850.3,158.6 856.0,166.2 863.6,166.2 859.8,188.9 856.0,219.2 852.2,249.6 843.4,261.1 827.4,285.0 814.1,306.2 803.5,306.2 795.6,288.9 800.9,285.0 802.2,266.4 800.9,239.8 791.0,209.6 783.0,191.0" fill="#334f93"/><polygon points="623.3,325.8 625.0,311.7 634.3,303.7 639.3,301.2 654.2,290.1 671.4,298.7 681.3,308.6 683.8,286.4 698.6,297.5 720.6,319.7 716.6,346.2 712.6,364.8 710.0,373.0 688.7,370.1 675.5,367.5 654.2,354.2 635.6,340.9 622.3,327.6" fill="#d5d5d5"/><polygon points="149.2,151.6 159.8,159.2 185.6,165.3 194.7,174.4 186.0,189.0 184.5,197.5 176.2,220.0 170.4,230.5 155.3,251.7 106.7,251.7 121.9,221.4 126.4,200.2 138.6,178.9 137.0,171.3 141.6,163.7" fill="none" stroke="#ffffff" stroke-opacity="0.25" stroke-width="2.2" stroke-linejoin="round"/><polygon points="194.7,174.4 205.3,157.7 217.5,139.5 229.5,122.6 233.5,130.5 236.0,137.8 239.0,137.5 241.0,145.5 252.8,171.9 257.3,179.8 266.4,194.6 265.3,200.3 265.3,251.7 155.3,251.7 170.4,230.5 176.2,220.0 184.5,197.5 186.0,189.0" fill="none" stroke="#ffffff" stroke-opacity="0.25" stroke-width="2.2" stroke-linejoin="round"/><polygon points="229.5,122.6 233.5,116.0 252.2,101.4 253.3,98.2 275.5,83.5 291.8,72.7 300.0,69.5 314.8,61.2 315.7,56.4 341.6,50.7 355.9,45.9 348.5,60.0 349.5,69.0 355.5,77.0 354.0,85.0 347.0,95.5 341.5,100.5 347.0,108.0 358.5,108.0 361.2,114.6 351.9,117.3 320.0,121.9 305.4,123.3 292.1,127.4 290.2,122.6 274.1,130.2 282.6,117.9 267.4,126.4 252.3,134.0 241.0,145.5 239.0,137.5 236.0,137.8 233.5,130.5" fill="none" stroke="#ffffff" stroke-opacity="0.25" stroke-width="2.2" stroke-linejoin="round"/><polygon points="241.0,145.5 252.3,134.0 267.4,126.4 282.6,117.9 274.1,130.2 290.2,122.6 292.1,127.4 305.4,123.3 320.0,121.9 351.9,117.3 361.2,114.6 360.5,123.9 371.2,137.2 363.9,138.5 359.2,145.2 362.5,151.2 354.0,151.0 341.9,155.8 323.3,174.1 314.2,182.1 277.8,190.1 266.4,194.6 257.3,179.8 252.8,171.9" fill="none" stroke="#ffffff" stroke-opacity="0.25" stroke-width="2.2" stroke-linejoin="round"/><polygon points="265.3,200.3 266.4,194.6 277.8,190.1 314.2,182.1 323.3,174.1 341.5,184.4 346.1,192.3 352.9,204.9 349.5,212.8 354.0,220.8 347.2,227.6 347.2,251.7 265.3,251.7" fill="none" stroke="#ffffff" stroke-opacity="0.25" stroke-width="2.2" stroke-linejoin="round"/><polygon points="323.3,174.1 341.9,155.8 354.0,151.0 362.5,151.2 359.2,145.2 363.9,138.5 371.2,137.2 390.4,150.5 395.7,161.1 409.0,175.7 426.3,178.4 439.5,199.6 451.5,207.6 454.1,215.6 462.1,224.9 467.4,231.5 478.0,251.7 347.2,251.7 347.2,227.6 354.0,220.8 349.5,212.8 352.9,204.9 346.1,192.3 341.5,184.4" fill="none" stroke="#ffffff" stroke-opacity="0.25" stroke-width="2.2" stroke-linejoin="round"/><polygon points="355.9,45.9 364.5,49.7 391.3,39.2 398.5,38.3 427.5,63.0 403.6,80.7 410.0,105.0 418.7,132.0 421.0,143.9 417.0,145.2 395.7,161.1 390.4,150.5 371.2,137.2 360.5,123.9 361.2,114.6 358.5,108.0 347.0,108.0 341.5,100.5 347.0,95.5 354.0,85.0 355.5,77.0 349.5,69.0 348.5,60.0" fill="none" stroke="#ffffff" stroke-opacity="0.25" stroke-width="2.2" stroke-linejoin="round"/><polygon points="403.6,80.7 427.5,63.0 443.9,75.6 445.3,75.9 466.5,91.9 482.5,106.5 487.8,107.8 494.4,117.1 469.2,130.3 440.0,137.0 421.0,143.9 418.7,132.0 410.0,105.0" fill="none" stroke="#ffffff" stroke-opacity="0.25" stroke-width="2.2" stroke-linejoin="round"/><polygon points="398.5,38.3 451.5,11.0 555.0,11.0 563.7,21.4 539.7,35.3 522.0,42.9 518.3,56.7 499.4,60.5 485.1,66.6 476.7,70.6 458.6,71.9 443.9,75.6" fill="none" stroke="#ffffff" stroke-opacity="0.25" stroke-width="2.2" stroke-linejoin="round"/><polygon points="494.4,117.1 487.8,107.8 482.5,106.5 466.5,91.9 445.3,75.9 443.9,75.6 458.6,71.9 476.7,70.6 485.1,66.6 499.4,60.5 518.3,56.7 522.0,42.9 539.7,35.3 560.0,50.4 601.9,86.5 575.4,133.0 542.2,156.9" fill="none" stroke="#ffffff" stroke-opacity="0.25" stroke-width="2.2" stroke-linejoin="round"/><polygon points="395.7,161.1 417.0,145.2 421.0,143.9 440.0,137.0 469.2,130.3 494.4,117.1 542.2,156.9 531.6,163.5 532.9,176.8 527.6,200.0 523.0,199.2 521.9,215.1 517.3,226.5 509.3,240.1 499.1,251.7 478.0,251.7 467.4,231.5 462.1,224.9 454.1,215.6 451.5,207.6 439.5,199.6 426.3,178.4 409.0,175.7" fill="none" stroke="#ffffff" stroke-opacity="0.25" stroke-width="2.2" stroke-linejoin="round"/><polygon points="542.2,156.9 575.4,133.0 584.7,134.3 594.0,139.6 597.0,146.0 602.0,151.5 607.0,160.0 613.0,164.0 616.4,168.2 621.8,167.5 626.3,174.3 628.0,174.5 624.5,180.0 624.3,185.5 619.7,192.3 616.4,191.0 603.8,201.4 591.3,218.5 592.4,226.5 587.8,227.3 574.1,231.4 565.6,239.2 561.0,245.0 558.6,252.0 499.1,251.7 509.3,240.1 517.3,226.5 521.9,215.1 523.0,199.2 527.6,200.0 532.9,176.8 531.6,163.5" fill="none" stroke="#ffffff" stroke-opacity="0.25" stroke-width="2.2" stroke-linejoin="round"/><polygon points="601.9,86.5 691.5,159.0 686.3,165.2 675.7,177.3 669.6,172.0 662.8,169.4 656.7,168.5 649.8,175.0 658.2,186.4 647.6,194.0 640.7,184.9 631.6,175.0 628.0,174.5 626.3,174.3 621.8,167.5 616.4,168.2 613.0,164.0 607.0,160.0 602.0,151.5 597.0,146.0 594.0,139.6 584.7,134.3 575.4,133.0" fill="none" stroke="#ffffff" stroke-opacity="0.25" stroke-width="2.2" stroke-linejoin="round"/><polygon points="601.9,86.5 610.4,93.3 623.0,78.0 661.0,50.4 664.7,59.3 676.0,59.3 683.6,68.0 684.8,93.3 696.2,95.8 706.8,111.4 712.5,115.9 718.2,122.8 721.6,129.6 723.9,132.5 731.9,137.6 736.4,142.1 739.9,149.0 742.7,154.7 726.4,160.5 716.3,168.0 703.7,175.7 700.0,177.3 703.0,169.7 701.5,162.9 692.4,158.8 691.5,159.0" fill="none" stroke="#ffffff" stroke-opacity="0.25" stroke-width="2.2" stroke-linejoin="round"/><polygon points="692.4,158.8 701.5,162.9 703.0,169.7 700.0,177.3 693.9,182.6 686.3,189.5 677.2,195.5 671.9,200.1 671.1,213.8 671.9,216.8 665.0,218.3 654.4,218.3 649.8,216.8 652.9,204.7 652.1,197.0 647.6,194.0 658.2,186.4 649.8,175.0 656.7,168.5 662.8,169.4 669.6,172.0 675.7,177.3 686.3,165.2" fill="none" stroke="#ffffff" stroke-opacity="0.25" stroke-width="2.2" stroke-linejoin="round"/><polygon points="628.0,174.5 631.6,175.0 640.7,184.9 647.6,194.0 652.1,197.0 652.9,204.7 649.8,216.8 654.4,218.3 659.8,220.0 639.3,223.4 623.3,230.3 621.9,234.1 613.4,229.0 601.4,226.6 592.4,226.5 591.3,218.5 603.8,201.4 616.4,191.0 619.7,192.3 624.3,185.5 624.5,180.0" fill="none" stroke="#ffffff" stroke-opacity="0.25" stroke-width="2.2" stroke-linejoin="round"/><polygon points="558.6,252.0 561.0,245.0 565.6,239.2 574.1,231.4 587.8,227.3 601.4,226.6 613.4,229.0 621.9,234.1 617.0,237.5 613.0,240.5 608.5,245.7 602.8,254.8 598.2,265.1 593.7,270.2 589.1,274.2 594.8,281.0 597.1,289.0 595.4,300.0 593.1,309.1 598.4,319.7 605.1,333.0 593.1,338.3 579.8,346.2 562.6,348.9 558.6,252.0" fill="none" stroke="#ffffff" stroke-opacity="0.25" stroke-width="2.2" stroke-linejoin="round"/><polygon points="562.6,348.9 579.8,346.2 593.1,338.3 605.1,333.0 619.7,345.9 626.5,368.7 625.4,400.6 635.6,409.7 640.2,426.8 630.0,424.5 625.4,432.5 612.9,435.9 604.9,446.1 604.9,448.0 568.5,448.0" fill="none" stroke="#ffffff" stroke-opacity="0.25" stroke-width="2.2" stroke-linejoin="round"/><polygon points="604.9,446.1 612.9,435.9 625.4,432.5 630.0,424.5 640.2,426.8 651.6,448.0 604.9,448.0" fill="none" stroke="#ffffff" stroke-opacity="0.25" stroke-width="2.2" stroke-linejoin="round"/><polygon points="622.1,237.0 618.7,240.0 613.0,246.8 607.3,255.9 602.8,263.9 598.2,269.6 597.7,274.2 599.9,279.9 607.3,286.7 606.2,292.4 605.1,300.0 602.8,308.9 609.6,318.0 617.6,329.4 623.3,325.8 625.0,311.7 634.3,303.7 639.3,301.2 654.2,290.1 671.4,298.7 681.3,308.6 683.8,286.4 671.4,274.0 661.6,264.2 649.2,261.7 639.3,258.0 629.5,249.3 627.0,239.5" fill="none" stroke="#ffffff" stroke-opacity="0.25" stroke-width="2.2" stroke-linejoin="round"/><polygon points="622.1,237.0 627.0,233.0 639.3,227.1 651.7,221.0 671.4,216.0 673.9,217.3 680.0,227.1 683.8,239.5 693.6,251.8 706.0,259.2 715.8,276.5 698.6,297.5 683.8,286.4 671.4,274.0 661.6,264.2 649.2,261.7 639.3,258.0 629.5,249.3" fill="none" stroke="#ffffff" stroke-opacity="0.25" stroke-width="2.2" stroke-linejoin="round"/><polygon points="673.9,217.3 671.1,213.8 671.9,200.1 677.2,195.5 686.3,189.5 692.4,200.0 698.6,204.9 706.0,214.8 710.9,224.7 713.4,237.0 723.2,238.2 730.6,244.4 740.5,250.6 715.8,276.5 706.0,259.2 693.6,251.8 683.8,239.5 680.0,227.1" fill="none" stroke="#ffffff" stroke-opacity="0.25" stroke-width="2.2" stroke-linejoin="round"/><polygon points="686.3,189.5 693.9,182.6 700.0,177.3 703.7,175.7 716.3,168.0 726.4,160.5 742.7,154.7 743.1,147.1 751.1,148.5 759.1,153.8 767.1,157.0 775.0,169.7 783.0,191.0 791.0,209.6 800.9,239.8 802.2,266.4 800.9,285.0 795.6,288.9 787.6,287.6 779.6,285.0 763.7,275.7 755.7,271.7 753.1,261.1 741.1,251.8 740.5,250.6 730.6,244.4 723.2,238.2 713.4,237.0 710.9,224.7 706.0,214.8 698.6,204.9 692.4,200.0" fill="none" stroke="#ffffff" stroke-opacity="0.25" stroke-width="2.2" stroke-linejoin="round"/><polygon points="706.8,111.4 719.4,110.8 718.5,102.3 729.9,101.2 728.5,94.0 737.8,92.1 743.1,102.8 759.1,100.1 760.4,112.6 769.7,119.2 785.7,127.2 780.4,132.5 765.7,144.5 767.1,157.0 759.1,153.8 751.1,148.5 743.1,147.1 742.7,154.7 739.9,149.0 736.4,142.1 731.9,137.6 723.9,132.5 721.6,129.6 718.2,122.8 712.5,115.9" fill="none" stroke="#ffffff" stroke-opacity="0.25" stroke-width="2.2" stroke-linejoin="round"/><polygon points="767.1,157.0 765.7,144.5 775.0,169.7" fill="none" stroke="#ffffff" stroke-opacity="0.25" stroke-width="2.2" stroke-linejoin="round"/><polygon points="775.0,169.7 799.0,149.8 820.2,149.8 828.2,160.4 836.2,164.4 850.3,158.6 856.0,166.2 863.6,166.2 859.8,188.9 856.0,219.2 852.2,249.6 843.4,261.1 827.4,285.0 814.1,306.2 803.5,306.2 795.6,288.9 800.9,285.0 802.2,266.4 800.9,239.8 791.0,209.6 783.0,191.0" fill="none" stroke="#ffffff" stroke-opacity="0.25" stroke-width="2.2" stroke-linejoin="round"/><polygon points="623.3,325.8 625.0,311.7 634.3,303.7 639.3,301.2 654.2,290.1 671.4,298.7 681.3,308.6 683.8,286.4 698.6,297.5 720.6,319.7 716.6,346.2 712.6,364.8 710.0,373.0 688.7,370.1 675.5,367.5 654.2,354.2 635.6,340.9 622.3,327.6" fill="none" stroke="#ffffff" stroke-opacity="0.25" stroke-width="2.2" stroke-linejoin="round"/><polygon points="149.2,151.6 159.8,159.2 185.6,165.3 194.7,174.4 186.0,189.0 184.5,197.5 176.2,220.0 170.4,230.5 155.3,251.7 106.7,251.7 121.9,221.4 126.4,200.2 138.6,178.9 137.0,171.3 141.6,163.7" fill="none" stroke="#555" stroke-width="0.9" stroke-linejoin="round"/><polygon points="194.7,174.4 205.3,157.7 217.5,139.5 229.5,122.6 233.5,130.5 236.0,137.8 239.0,137.5 241.0,145.5 252.8,171.9 257.3,179.8 266.4,194.6 265.3,200.3 265.3,251.7 155.3,251.7 170.4,230.5 176.2,220.0 184.5,197.5 186.0,189.0" fill="none" stroke="#555" stroke-width="0.9" stroke-linejoin="round"/><polygon points="229.5,122.6 233.5,116.0 252.2,101.4 253.3,98.2 275.5,83.5 291.8,72.7 300.0,69.5 314.8,61.2 315.7,56.4 341.6,50.7 355.9,45.9 348.5,60.0 349.5,69.0 355.5,77.0 354.0,85.0 347.0,95.5 341.5,100.5 347.0,108.0 358.5,108.0 361.2,114.6 351.9,117.3 320.0,121.9 305.4,123.3 292.1,127.4 290.2,122.6 274.1,130.2 282.6,117.9 267.4,126.4 252.3,134.0 241.0,145.5 239.0,137.5 236.0,137.8 233.5,130.5" fill="none" stroke="#555" stroke-width="0.9" stroke-linejoin="round"/><polygon points="241.0,145.5 252.3,134.0 267.4,126.4 282.6,117.9 274.1,130.2 290.2,122.6 292.1,127.4 305.4,123.3 320.0,121.9 351.9,117.3 361.2,114.6 360.5,123.9 371.2,137.2 363.9,138.5 359.2,145.2 362.5,151.2 354.0,151.0 341.9,155.8 323.3,174.1 314.2,182.1 277.8,190.1 266.4,194.6 257.3,179.8 252.8,171.9" fill="none" stroke="#555" stroke-width="0.9" stroke-linejoin="round"/><polygon points="265.3,200.3 266.4,194.6 277.8,190.1 314.2,182.1 323.3,174.1 341.5,184.4 346.1,192.3 352.9,204.9 349.5,212.8 354.0,220.8 347.2,227.6 347.2,251.7 265.3,251.7" fill="none" stroke="#555" stroke-width="0.9" stroke-linejoin="round"/><polygon points="323.3,174.1 341.9,155.8 354.0,151.0 362.5,151.2 359.2,145.2 363.9,138.5 371.2,137.2 390.4,150.5 395.7,161.1 409.0,175.7 426.3,178.4 439.5,199.6 451.5,207.6 454.1,215.6 462.1,224.9 467.4,231.5 478.0,251.7 347.2,251.7 347.2,227.6 354.0,220.8 349.5,212.8 352.9,204.9 346.1,192.3 341.5,184.4" fill="none" stroke="#555" stroke-width="0.9" stroke-linejoin="round"/><polygon points="355.9,45.9 364.5,49.7 391.3,39.2 398.5,38.3 427.5,63.0 403.6,80.7 410.0,105.0 418.7,132.0 421.0,143.9 417.0,145.2 395.7,161.1 390.4,150.5 371.2,137.2 360.5,123.9 361.2,114.6 358.5,108.0 347.0,108.0 341.5,100.5 347.0,95.5 354.0,85.0 355.5,77.0 349.5,69.0 348.5,60.0" fill="none" stroke="#555" stroke-width="0.9" stroke-linejoin="round"/><polygon points="403.6,80.7 427.5,63.0 443.9,75.6 445.3,75.9 466.5,91.9 482.5,106.5 487.8,107.8 494.4,117.1 469.2,130.3 440.0,137.0 421.0,143.9 418.7,132.0 410.0,105.0" fill="none" stroke="#555" stroke-width="0.9" stroke-linejoin="round"/><polygon points="398.5,38.3 451.5,11.0 555.0,11.0 563.7,21.4 539.7,35.3 522.0,42.9 518.3,56.7 499.4,60.5 485.1,66.6 476.7,70.6 458.6,71.9 443.9,75.6" fill="none" stroke="#555" stroke-width="0.9" stroke-linejoin="round"/><polygon points="494.4,117.1 487.8,107.8 482.5,106.5 466.5,91.9 445.3,75.9 443.9,75.6 458.6,71.9 476.7,70.6 485.1,66.6 499.4,60.5 518.3,56.7 522.0,42.9 539.7,35.3 560.0,50.4 601.9,86.5 575.4,133.0 542.2,156.9" fill="none" stroke="#555" stroke-width="0.9" stroke-linejoin="round"/><polygon points="395.7,161.1 417.0,145.2 421.0,143.9 440.0,137.0 469.2,130.3 494.4,117.1 542.2,156.9 531.6,163.5 532.9,176.8 527.6,200.0 523.0,199.2 521.9,215.1 517.3,226.5 509.3,240.1 499.1,251.7 478.0,251.7 467.4,231.5 462.1,224.9 454.1,215.6 451.5,207.6 439.5,199.6 426.3,178.4 409.0,175.7" fill="none" stroke="#555" stroke-width="0.9" stroke-linejoin="round"/><polygon points="542.2,156.9 575.4,133.0 584.7,134.3 594.0,139.6 597.0,146.0 602.0,151.5 607.0,160.0 613.0,164.0 616.4,168.2 621.8,167.5 626.3,174.3 628.0,174.5 624.5,180.0 624.3,185.5 619.7,192.3 616.4,191.0 603.8,201.4 591.3,218.5 592.4,226.5 587.8,227.3 574.1,231.4 565.6,239.2 561.0,245.0 558.6,252.0 499.1,251.7 509.3,240.1 517.3,226.5 521.9,215.1 523.0,199.2 527.6,200.0 532.9,176.8 531.6,163.5" fill="none" stroke="#555" stroke-width="0.9" stroke-linejoin="round"/><polygon points="601.9,86.5 691.5,159.0 686.3,165.2 675.7,177.3 669.6,172.0 662.8,169.4 656.7,168.5 649.8,175.0 658.2,186.4 647.6,194.0 640.7,184.9 631.6,175.0 628.0,174.5 626.3,174.3 621.8,167.5 616.4,168.2 613.0,164.0 607.0,160.0 602.0,151.5 597.0,146.0 594.0,139.6 584.7,134.3 575.4,133.0" fill="none" stroke="#555" stroke-width="0.9" stroke-linejoin="round"/><polygon points="601.9,86.5 610.4,93.3 623.0,78.0 661.0,50.4 664.7,59.3 676.0,59.3 683.6,68.0 684.8,93.3 696.2,95.8 706.8,111.4 712.5,115.9 718.2,122.8 721.6,129.6 723.9,132.5 731.9,137.6 736.4,142.1 739.9,149.0 742.7,154.7 726.4,160.5 716.3,168.0 703.7,175.7 700.0,177.3 703.0,169.7 701.5,162.9 692.4,158.8 691.5,159.0" fill="none" stroke="#555" stroke-width="0.9" stroke-linejoin="round"/><polygon points="692.4,158.8 701.5,162.9 703.0,169.7 700.0,177.3 693.9,182.6 686.3,189.5 677.2,195.5 671.9,200.1 671.1,213.8 671.9,216.8 665.0,218.3 654.4,218.3 649.8,216.8 652.9,204.7 652.1,197.0 647.6,194.0 658.2,186.4 649.8,175.0 656.7,168.5 662.8,169.4 669.6,172.0 675.7,177.3 686.3,165.2" fill="none" stroke="#555" stroke-width="0.9" stroke-linejoin="round"/><polygon points="628.0,174.5 631.6,175.0 640.7,184.9 647.6,194.0 652.1,197.0 652.9,204.7 649.8,216.8 654.4,218.3 659.8,220.0 639.3,223.4 623.3,230.3 621.9,234.1 613.4,229.0 601.4,226.6 592.4,226.5 591.3,218.5 603.8,201.4 616.4,191.0 619.7,192.3 624.3,185.5 624.5,180.0" fill="none" stroke="#555" stroke-width="0.9" stroke-linejoin="round"/><polygon points="558.6,252.0 561.0,245.0 565.6,239.2 574.1,231.4 587.8,227.3 601.4,226.6 613.4,229.0 621.9,234.1 617.0,237.5 613.0,240.5 608.5,245.7 602.8,254.8 598.2,265.1 593.7,270.2 589.1,274.2 594.8,281.0 597.1,289.0 595.4,300.0 593.1,309.1 598.4,319.7 605.1,333.0 593.1,338.3 579.8,346.2 562.6,348.9 558.6,252.0" fill="none" stroke="#555" stroke-width="0.9" stroke-linejoin="round"/><polygon points="562.6,348.9 579.8,346.2 593.1,338.3 605.1,333.0 619.7,345.9 626.5,368.7 625.4,400.6 635.6,409.7 640.2,426.8 630.0,424.5 625.4,432.5 612.9,435.9 604.9,446.1 604.9,448.0 568.5,448.0" fill="none" stroke="#555" stroke-width="0.9" stroke-linejoin="round"/><polygon points="604.9,446.1 612.9,435.9 625.4,432.5 630.0,424.5 640.2,426.8 651.6,448.0 604.9,448.0" fill="none" stroke="#555" stroke-width="0.9" stroke-linejoin="round"/><polygon points="622.1,237.0 618.7,240.0 613.0,246.8 607.3,255.9 602.8,263.9 598.2,269.6 597.7,274.2 599.9,279.9 607.3,286.7 606.2,292.4 605.1,300.0 602.8,308.9 609.6,318.0 617.6,329.4 623.3,325.8 625.0,311.7 634.3,303.7 639.3,301.2 654.2,290.1 671.4,298.7 681.3,308.6 683.8,286.4 671.4,274.0 661.6,264.2 649.2,261.7 639.3,258.0 629.5,249.3 627.0,239.5" fill="none" stroke="#555" stroke-width="0.9" stroke-linejoin="round"/><polygon points="622.1,237.0 627.0,233.0 639.3,227.1 651.7,221.0 671.4,216.0 673.9,217.3 680.0,227.1 683.8,239.5 693.6,251.8 706.0,259.2 715.8,276.5 698.6,297.5 683.8,286.4 671.4,274.0 661.6,264.2 649.2,261.7 639.3,258.0 629.5,249.3" fill="none" stroke="#555" stroke-width="0.9" stroke-linejoin="round"/><polygon points="673.9,217.3 671.1,213.8 671.9,200.1 677.2,195.5 686.3,189.5 692.4,200.0 698.6,204.9 706.0,214.8 710.9,224.7 713.4,237.0 723.2,238.2 730.6,244.4 740.5,250.6 715.8,276.5 706.0,259.2 693.6,251.8 683.8,239.5 680.0,227.1" fill="none" stroke="#555" stroke-width="0.9" stroke-linejoin="round"/><polygon points="686.3,189.5 693.9,182.6 700.0,177.3 703.7,175.7 716.3,168.0 726.4,160.5 742.7,154.7 743.1,147.1 751.1,148.5 759.1,153.8 767.1,157.0 775.0,169.7 783.0,191.0 791.0,209.6 800.9,239.8 802.2,266.4 800.9,285.0 795.6,288.9 787.6,287.6 779.6,285.0 763.7,275.7 755.7,271.7 753.1,261.1 741.1,251.8 740.5,250.6 730.6,244.4 723.2,238.2 713.4,237.0 710.9,224.7 706.0,214.8 698.6,204.9 692.4,200.0" fill="none" stroke="#555" stroke-width="0.9" stroke-linejoin="round"/><polygon points="706.8,111.4 719.4,110.8 718.5,102.3 729.9,101.2 728.5,94.0 737.8,92.1 743.1,102.8 759.1,100.1 760.4,112.6 769.7,119.2 785.7,127.2 780.4,132.5 765.7,144.5 767.1,157.0 759.1,153.8 751.1,148.5 743.1,147.1 742.7,154.7 739.9,149.0 736.4,142.1 731.9,137.6 723.9,132.5 721.6,129.6 718.2,122.8 712.5,115.9" fill="none" stroke="#555" stroke-width="0.9" stroke-linejoin="round"/><polygon points="767.1,157.0 765.7,144.5 775.0,169.7" fill="none" stroke="#555" stroke-width="0.9" stroke-linejoin="round"/><polygon points="775.0,169.7 799.0,149.8 820.2,149.8 828.2,160.4 836.2,164.4 850.3,158.6 856.0,166.2 863.6,166.2 859.8,188.9 856.0,219.2 852.2,249.6 843.4,261.1 827.4,285.0 814.1,306.2 803.5,306.2 795.6,288.9 800.9,285.0 802.2,266.4 800.9,239.8 791.0,209.6 783.0,191.0" fill="none" stroke="#555" stroke-width="0.9" stroke-linejoin="round"/><polygon points="623.3,325.8 625.0,311.7 634.3,303.7 639.3,301.2 654.2,290.1 671.4,298.7 681.3,308.6 683.8,286.4 698.6,297.5 720.6,319.7 716.6,346.2 712.6,364.8 710.0,373.0 688.7,370.1 675.5,367.5 654.2,354.2 635.6,340.9 622.3,327.6" fill="none" stroke="#555" stroke-width="0.9" stroke-linejoin="round"/><polyline points="194.7,174.4 186.0,189.0 184.5,197.5 176.2,220.0 170.4,230.5 155.3,251.7" fill="none" stroke="#857c6b" stroke-width="0.85" stroke-linejoin="round" stroke-linecap="round" /><polyline points="742.7,154.7 743.1,147.1 751.1,148.5 759.1,153.8 767.1,157.0" fill="none" stroke="#857c6b" stroke-width="0.85" stroke-linejoin="round" stroke-linecap="round" /><polyline points="767.1,157.0 775.0,169.7 783.0,191.0 791.0,209.6 800.9,239.8 802.2,266.4 800.9,285.0 795.6,288.9" fill="none" stroke="#857c6b" stroke-width="0.85" stroke-linejoin="round" stroke-linecap="round" /><polyline points="686.3,189.5 692.4,200.0 698.6,204.9 706.0,214.8 710.9,224.7 713.4,237.0 723.2,238.2 730.6,244.4 740.5,250.6" fill="none" stroke="#857c6b" stroke-width="0.85" stroke-linejoin="round" stroke-linecap="round" /><polyline points="673.9,217.3 680.0,227.1 683.8,239.5 693.6,251.8 706.0,259.2 715.8,276.5" fill="none" stroke="#857c6b" stroke-width="0.85" stroke-linejoin="round" stroke-linecap="round" /><polygon points="803.2,306.0 796.0,300.0 789.9,309.9 783.2,320.6 777.9,329.9 768.6,333.9 760.6,343.2 752.0,352.0 745.0,362.0 738.0,372.0 730.0,383.0 720.0,398.0 712.0,412.0 705.0,425.0 705.2,428.8 714.3,419.7 723.4,407.5 732.5,395.4 741.6,383.3 750.7,371.1 759.8,359.0 760.6,357.8 767.3,351.1 776.6,344.5 787.2,337.8 796.5,332.5 803.2,325.9 808.5,319.2 812.5,312.6 815.1,306.6" fill="#efefef"/><polyline points="806.0,308.0 798.0,318.0 790.0,326.0 780.0,333.0 770.0,340.0 762.0,348.0 754.0,358.0 746.0,369.0 738.0,380.0 729.0,392.0 720.0,404.0 712.0,416.0 707.0,425.0" fill="none" stroke="#a0a0a0" stroke-width="1.8" stroke-linejoin="round" stroke-linecap="round" stroke-dasharray="1.5,1.2"/><polyline points="810.0,309.0 803.0,320.0 794.0,329.0 784.0,336.0 773.0,343.0 765.0,350.0 757.0,360.0 749.0,371.0 741.0,382.0 732.0,394.0 723.0,406.0 715.0,418.0 709.0,426.0" fill="none" stroke="#ababab" stroke-width="1.2" stroke-linejoin="round" stroke-linecap="round" stroke-dasharray="1,1.6"/><polyline points="800.0,304.0 793.0,314.0 785.0,323.0 775.0,331.0 765.0,339.0 757.0,348.0 749.0,358.0 741.0,369.0 733.0,381.0 724.0,394.0 716.0,406.0 709.0,418.0" fill="none" stroke="#b4b4b4" stroke-width="0.8" stroke-linejoin="round" stroke-linecap="round" stroke-dasharray="1,1.5"/><polygon points="1138.0,11.0 1089.0,11.0 1088.9,13.1 1076.1,14.4 1067.0,16.2 1057.8,15.3 1050.5,19.0 1039.6,17.1 1032.3,22.6 1021.3,23.5 1014.0,28.1 1003.0,24.4 995.7,29.0 977.5,33.6 961.0,38.1 944.6,44.5 930.0,50.0 917.7,54.6 910.0,53.0 895.0,59.0 880.0,65.0 875.0,62.0 868.3,58.4 866.0,52.0 862.6,46.1 864.5,38.5 862.6,31.8 866.8,11.0 864.6,11.0 860.0,28.0 856.9,32.8 858.0,40.0 860.7,50.8 857.0,55.5 847.4,63.1 836.0,68.8 824.7,74.5 820.9,76.4 824.7,84.0 834.2,87.8 845.5,85.9 856.9,91.6 866.4,95.4 867.4,80.2 871.2,86.5 873.1,97.9 873.1,116.9 871.2,135.8 867.4,154.8 863.6,166.2 859.8,188.9 856.0,219.2 852.2,249.6 843.4,261.1 827.4,285.0 814.1,306.2 815.1,306.6 812.5,312.6 808.5,319.2 803.2,325.9 796.5,332.5 787.2,337.8 776.6,344.5 767.3,351.1 760.6,357.8 750.7,371.1 741.6,383.3 732.5,395.4 723.4,407.5 714.3,419.7 705.2,428.8 700.6,428.8 703.7,410.6 708.2,395.4 712.8,380.2 711.3,374.1 710.0,373.0 688.7,370.1 675.5,367.5 654.2,354.2 635.6,340.9 622.3,327.6 617.6,329.4 609.6,318.0 604.0,316.0 598.4,319.7 603.9,329.4 605.1,333.0 619.7,345.9 626.5,368.7 625.4,400.6 635.6,409.7 640.2,426.8 651.6,448.0 1138.0,448.0" fill="#ffffff" stroke="#9a9a9a" stroke-width="0.6" stroke-linejoin="round"/><polygon points="912,56 930,50 944.6,44.5 961,38.1 977.5,33.6 992,30 990,42 984.8,44.6 960,51 942.8,57.3 925,59" fill="#eaeaea"/><polyline points="915.0,56.0 930.0,52.0 945.0,47.0 960.0,42.0 975.0,38.0 988.0,35.0" fill="none" stroke="#a5a5a5" stroke-width="1.3" stroke-linejoin="round" stroke-linecap="round" stroke-dasharray="1.2,1"/><polyline points="920.0,58.0 935.0,54.0 950.0,50.0 965.0,46.0 980.0,42.0" fill="none" stroke="#b0b0b0" stroke-width="1.0" stroke-linejoin="round" stroke-linecap="round" stroke-dasharray="1,1.4"/><polyline points="942.8,57.3 984.8,46.3 1021.3,38.1 1048.7,28.1 1067.0,20.8 1090.7,12.6" fill="none" stroke="#9a9a9a" stroke-width="0.7" stroke-linejoin="round" stroke-linecap="round" /><polyline points="958.0,51.5 984.8,44.6 1021.3,36.4 1048.7,26.4 1067.0,19.2 1085.0,12.6" fill="none" stroke="#a8a8a8" stroke-width="0.6" stroke-linejoin="round" stroke-linecap="round" /><polygon points="460.5,224.2 462.5,224.2 474.6,236.4 475.8,238.8 481,251.5 478,251.5 467.6,234.2" fill="#ffffff" stroke="#9a9a9a" stroke-width="0.5"/><polyline points="703.7,175.7 700.0,177.3 693.9,182.6 686.3,189.5 677.2,195.5 671.9,200.1 671.1,213.8 671.9,216.8 665.0,218.6 659.8,221.0" fill="none" stroke="#8a8a8a" stroke-width="3.8" stroke-linejoin="round" stroke-linecap="round" /><polyline points="703.7,175.7 700.0,177.3 693.9,182.6 686.3,189.5 677.2,195.5 671.9,200.1 671.1,213.8 671.9,216.8 665.0,218.6 659.8,221.0" fill="none" stroke="#ffffff" stroke-width="2.2" stroke-linejoin="round" stroke-linecap="round" /><polygon points="659.8,220.2 639.3,223.4 623.3,230.3 621.9,234.1 617.0,237.5 613.0,240.5 608.5,245.7 602.8,254.8 598.2,265.1 593.7,270.2 589.1,274.2 594.8,281.0 597.1,289.0 595.4,300.0 593.1,309.1 598.4,319.7 603.9,329.4 606.0,336.0 620.0,336.0 617.6,329.4 609.6,318.0 602.8,308.9 605.1,300.0 606.2,292.4 607.3,286.7 599.9,279.9 597.7,274.2 598.2,269.6 602.8,263.9 607.3,255.9 613.0,246.8 618.7,240.0 622.1,237.0 627.0,233.0 639.3,227.1 651.7,221.5 659.8,221.8" fill="#ffffff"/><polyline points="659.8,220.2 639.3,223.4 623.3,230.3 621.9,234.1 617.0,237.5 613.0,240.5 608.5,245.7 602.8,254.8 598.2,265.1 593.7,270.2 589.1,274.2 594.8,281.0 597.1,289.0 595.4,300.0 593.1,309.1 598.4,319.7 603.9,329.4" fill="none" stroke="#8a8a8a" stroke-width="0.7" stroke-linejoin="round" stroke-linecap="round" /><polyline points="620.0,336.0 617.6,329.4 609.6,318.0 602.8,308.9 605.1,300.0 606.2,292.4 607.3,286.7 599.9,279.9 597.7,274.2 598.2,269.6 602.8,263.9 607.3,255.9 613.0,246.8 618.7,240.0 622.1,237.0 627.0,233.0 639.3,227.1 651.7,221.5 659.8,221.8" fill="none" stroke="#8a8a8a" stroke-width="0.7" stroke-linejoin="round" stroke-linecap="round" /><g font-family="Liberation Sans, Arial, sans-serif" font-size="12" letter-spacing="0.3" fill="#303030" text-anchor="middle"><text x="495" y="20">Schuylkill, PA</text><text x="495" y="37.7">55</text><text x="300.3" y="91.9">Perry, PA</text><text x="300.3" y="109.9">92</text><text x="443.4" y="100">Lebanon, PA</text><text x="443.4" y="117.8">103</text><text x="533" y="93">Berks, PA</text><text x="533" y="110.8">98</text><text x="290.8" y="153.7">Cumberland, PA</text><text x="290.8" y="171.8">119</text><text x="632.4" y="136.6">Montgomery, PA</text><text x="632.4" y="154.6">95</text><text x="750.9" y="120.9">Mercer, NJ</text><text x="750.9" y="138.7">51</text><text x="156" y="197.8">Fulton, PA</text><text x="156" y="215.7">49</text><text x="391" y="190.7">York, PA</text><text x="391" y="208.5">95</text><text x="480.6" y="180.7">Lancaster, PA</text><text x="480.6" y="198.7">121</text><text x="571.8" y="188.9">Chester, PA</text><text x="571.8" y="206.9">89</text><text x="670.7" y="183.7">Philadelphia, PA</text><text x="670.7" y="201.6">76</text><text x="307.2" y="208.7">Adams, PA</text><text x="307.2" y="226.5">73</text><text x="820.2" y="220.7">Ocean, NJ</text><text x="820.2" y="238.5">63</text><text x="670.1" y="252.5">Gloucester, NJ</text><text x="670.1" y="270.5">59</text><text x="577.5" y="283.5">New Castle, DE</text><text x="577.5" y="301.5">101</text><text x="673.4" y="326.5">Cumberland, NJ</text><text x="673.4" y="344.5">102</text></g><g font-family="Liberation Sans, Arial, sans-serif" font-size="14" fill="#9c9c9c"><text x="747.5" y="153" font-family="DejaVu Sans, sans-serif" font-size="13.2" fill="#a4a4a4" fill-opacity="0.8">New Jersey</text><text x="301.4" y="316" font-family="DejaVu Sans, sans-serif" font-size="13.2">Maryland</text><text x="314.8" y="428" font-family="DejaVu Sans, sans-serif" font-size="13.2">District of</text></g><rect x="16.5" y="431.5" width="539" height="12" fill="#ffffff" stroke="#111" stroke-width="1"/><text x="17" y="441" font-family="Liberation Sans, Arial, sans-serif" font-size="7.4" fill="#333" xml:space="preserve">© 2021 Mapbox © OpenStreetMap  © Home Demand Index</text></g><rect x="12.5" y="12.5" width="1125" height="435" fill="none" stroke="#e2e2e2" stroke-width="1"/></svg>
<div class="leg" style="left:25px;color:#333;letter-spacing:0.1px;">Index Tier</div>
<div class="sw" style="left:92px;background:#f5652f"></div><div class="leg" style="left:111px">High</div>
<div class="sw" style="left:185px;background:#f3937b"></div><div class="leg" style="left:204px">Moderate</div>
<div class="sw" style="left:278px;background:#dadada"></div><div class="leg" style="left:297px">Steady</div>
<div class="sw" style="left:371px;background:#6f80b6"></div><div class="leg" style="left:390px">Slow</div>
<div class="sw" style="left:464px;background:#334f93"></div><div class="leg" style="left:483px">Limited</div>
<div class="abs" style="left:586px;top:460px;width:17px;height:21px;border:1px solid #a8a8a8;border-bottom:none;"></div>
<div class="abs" style="left:607px;top:460px;width:161px;height:21px;border:1px solid #777;border-bottom:none;"></div>
<div class="abs" style="left:614px;top:463px;font-size:13px;color:#222;">September 2025</div>
<div class="abs" style="left:772px;top:460px;width:17px;height:21px;border:1px solid #dcdcdc;border-bottom:none;"></div>
<div class="abs" style="left:797px;top:469px;width:187px;height:4px;background:#e2e2e2;"></div>
<div class="abs" style="left:997px;top:463px;width:12px;height:12px;border:1px solid #333;border-radius:1px;"></div>
<div class="abs" style="left:1017px;top:462px;font-size:13px;color:#333;width:71px;overflow:hidden;white-space:nowrap;">Show history</div>
<div class="bar"></div>
<svg width="1150" height="527" viewBox="0 0 1150 527" style="position:absolute;left:0;top:0">
<g stroke="#666" stroke-width="1.1" fill="none" stroke-linecap="butt"><path d="M41.5,510.10V516.70M38.20,513.4H44.80" stroke-width="1.3"/><path d="M37.4,507.00V511.80M35.00,509.4H39.80"/><path d="M45.4,507.00V511.80M43.00,509.4H47.80"/><path d="M37.4,515.10V519.90M35.00,517.5H39.80"/><path d="M45.4,515.10V519.90M43.00,517.5H47.80"/><path d="M41.5,505.00V507.80M40.10,506.4H42.90" stroke-width="1.3"/><path d="M34.5,512.00V514.80M33.10,513.4H35.90" stroke-width="1.3"/><path d="M48.5,512.00V514.80M47.10,513.4H49.90" stroke-width="1.3"/><path d="M41.5,519.10V521.90M40.10,520.5H42.90" stroke-width="1.3"/></g>
<g stroke="#bdbdbd" stroke-width="1" fill="none">
<path d="M772.3,508.5H780a6.5,6.5 0 0 1 0,13H771.2"/>
<path d="M823.2,508.5H816.2a6.5,6.5 0 0 0 0,13H824.6"/>
<path d="M853.7,508.4H858.7a6.4,6.4 0 0 1 0,12.8H851.2"/>
<path d="M850.5,506.1v4.6"/>
<path d="M898.5,510.2H889.5a3.4,3.4 0 0 0 0,6.9H898.5a3.4,3.4 0 0 0 3.1,-4.8"/>
<path d="M945.5,507v12.8" stroke="#c8c8c8"/>
</g>
<g fill="#bdbdbd">
<path d="M770.1,508.5L772.8,505.9L772.8,511.1Z"/>
<path d="M825.9,508.5L822.7,505.9L822.7,511.1Z"/>
<path d="M852.1,508.4L854.2,506.6L854.2,510.2Z"/>
<path d="M901.8,510.2L899.2,507.8L899.2,512.6Z"/>
<path d="M916.7,512.5H923.1L919.9,516.6Z"/>
</g>
<g stroke="#6b6b6b" stroke-width="1.2" fill="none">
<path d="M977.8,515.6H973.8a1.5,1.5 0 0 1 -1.5,-1.5V507.8a1.5,1.5 0 0 1 1.5,-1.5H985.1a1.5,1.5 0 0 1 1.5,1.5V514.1a1.5,1.5 0 0 1 -1.5,1.5H981.2"/>
<path d="M979.5,513.2V519.5"/>
<path d="M1023.6,511.5V506.7H1028.4M1033.6,506.7H1038.4V511.5M1038.4,516.3V521.1H1033.6M1028.4,521.1H1023.6V516.3"/>
<rect x="1026.6" y="509.8" width="8.8" height="8.2"/>
<circle cx="1072.9" cy="509.1" r="2.4"/>
<circle cx="1063.8" cy="513.9" r="2.4"/>
<circle cx="1072.9" cy="519.1" r="2.4"/>
<path d="M1065.9,512.8L1070.8,510.2M1065.9,515.0L1070.8,518"/>
</g>
<g fill="#666">
<path d="M977.1,519.1H982.1L979.6,521.9Z"/>
<path d="M992.3,512.1H999.2L995.75,516.6Z"/>
</g>
<path d="M597.8,467.8L593,472.2L597.8,476.6" stroke="#6a6a6a" stroke-width="1.6" fill="none"/>
<path d="M779,467.8L783.8,472.2L779,476.6" stroke="#d2d2d2" stroke-width="1.6" fill="none"/>
<path d="M755.6,471.3H763.3L759.45,474.9Z" fill="#111"/>
<g stroke="#d4d4d4" stroke-width="1"><path d="M797.3,476.7V480"/><path d="M809.8,476.7V480"/><path d="M822.3,476.7V480"/><path d="M834.7,476.7V480"/><path d="M847.2,476.7V480"/><path d="M859.7,476.7V480"/><path d="M872.2,476.7V480"/><path d="M884.7,476.7V480"/><path d="M897.1,476.7V480"/><path d="M909.6,476.7V480"/><path d="M922.1,476.7V480"/><path d="M934.6,476.7V480"/><path d="M947.1,476.7V480"/><path d="M959.5,476.7V480"/><path d="M972.0,476.7V480"/><path d="M984.5,476.7V480"/></g>
<circle cx="984.5" cy="470.4" r="4.2" fill="#fff" stroke="#555" stroke-width="1"/>
</svg>
<div class="abs" style="left:55px;top:507px;font-size:12.2px;font-weight:bold;color:#6a6a6a;">View on Tableau Public</div>
<div class="abs" style="left:1083px;top:507.3px;font-size:12.2px;font-weight:bold;color:#6a6a6a;">Share</div>
</body></html>
